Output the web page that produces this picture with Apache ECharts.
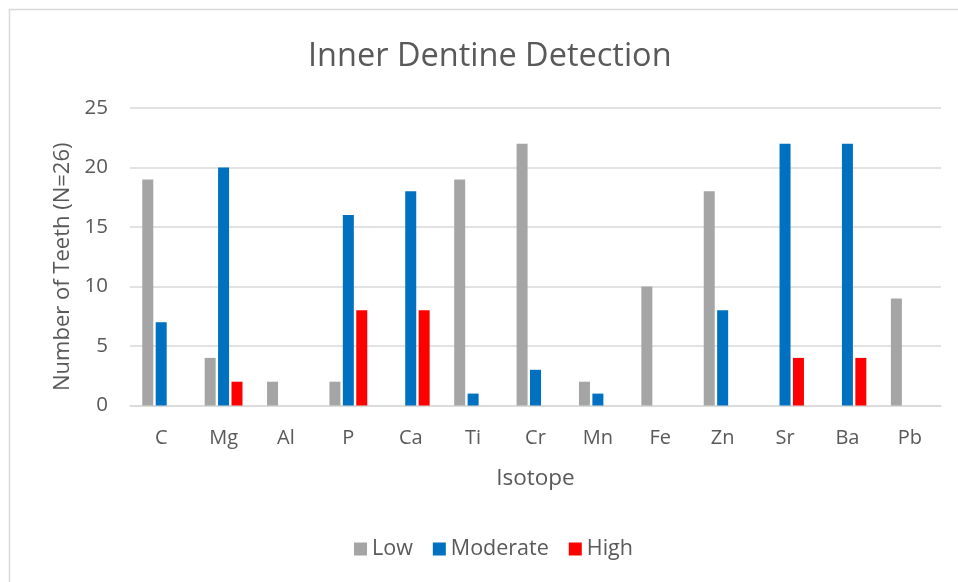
<!DOCTYPE html>
<html><head><meta charset="utf-8">
<script src="https://cdn.jsdelivr.net/npm/echarts@6/dist/echarts.min.js"></script>
<style>html,body{margin:0;padding:0;background:#fff}#c{width:958px;height:582px}</style>
</head><body><div id="c"></div>
<script>
const categories = ['C','Mg','Al','P','Ca','Ti','Cr','Mn','Fe','Zn','Sr','Ba','Pb'];
const lowValues = [19,4,2,2,0,19,22,2,10,18,0,0,9];
const moderateValues = [7,20,0,16,18,1,3,1,0,8,22,22,0];
const highValues = [0,2,0,8,8,0,0,0,0,0,4,4,0];
const yTicks = [0,5,10,15,20,25];

const FONT = '"Open Sans", sans-serif';
const TXT = '#595959';
const chart = echarts.init(document.getElementById('c'), null, {renderer:'canvas'});
function bar(name, data, color){
  return {name, type:'bar', data, barWidth:11, barGap:'22%', itemStyle:{color}, emphasis:{disabled:true}};
}
chart.setOption({
  animation:false,
  backgroundColor:'#fff',
  graphic:[{type:'rect', shape:{x:9.5,y:9.5,width:1200,height:1200}, style:{fill:'none', stroke:'#d9d9d9', lineWidth:1.5}, silent:true}],
  title:{text:'Inner Dentine Detection', left:303, top:35, textStyle:{fontFamily:FONT, fontSize:32.5, fontWeight:'normal', color:TXT}},
  legend:{top:533, left:349, itemWidth:13, itemHeight:13, itemGap:20, icon:'rect',
    textStyle:{fontFamily:FONT, fontSize:21.5, color:TXT}, data:['Low','Moderate','High']},
  grid:{left:130, right:17, top:108, bottom:176.5, containLabel:false},
  xAxis:{type:'category', data:categories, name:'Isotope', nameLocation:'middle', nameGap:62,
    nameTextStyle:{fontFamily:FONT, fontSize:22.5, color:TXT},
    axisLine:{lineStyle:{color:'#d9d9d9', width:1.5}}, axisTick:{show:false},
    axisLabel:{fontFamily:FONT, fontSize:20, color:TXT, margin:23}},
  yAxis:{type:'value', min:yTicks[0], max:yTicks[yTicks.length-1], interval:5,
    name:'Number of Teeth (N=26)', nameLocation:'middle', nameGap:56,
    nameTextStyle:{fontFamily:FONT, fontSize:22, color:TXT, padding:[0,20,0,0]},
    axisLine:{show:false}, axisTick:{show:false},
    axisLabel:{fontFamily:FONT, fontSize:20.5, color:TXT, margin:22},
    splitLine:{lineStyle:{color:'#d9d9d9', width:1.5}}},
  series:[bar('Low', lowValues, '#a5a5a5'), bar('Moderate', moderateValues, '#0070c0'), bar('High', highValues, '#ff0000')]
});
</script></body></html>
